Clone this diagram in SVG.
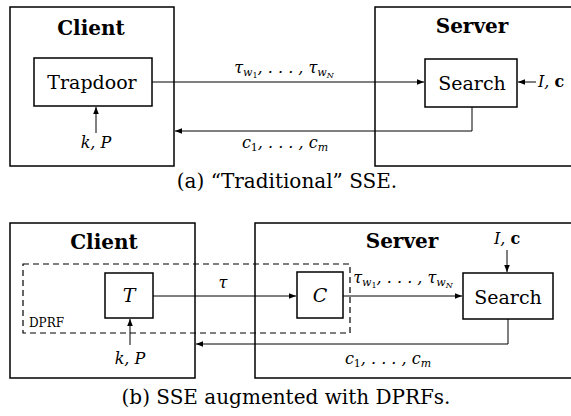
<svg xmlns="http://www.w3.org/2000/svg" width="571" height="416" viewBox="0 0 571 416">
<defs>
<marker id="ah" viewBox="0 0 10 8" refX="10" refY="4" markerWidth="7" markerHeight="5.6" markerUnits="userSpaceOnUse" orient="auto">
<path d="M0,0 L10,4 L0,8 Z" fill="#000"/>
</marker>
<style>
.box{fill:#fff;stroke:#000;stroke-width:1.5}
.dash{fill:none;stroke:#000;stroke-width:1.2;stroke-dasharray:6,4}
.ln{fill:none;stroke:#000;stroke-width:1;marker-end:url(#ah)}
text{font-family:'DejaVu Serif','Liberation Serif',serif}
.title{font-size:20px;font-weight:bold;text-anchor:middle}
.lbl{font-size:19px;text-anchor:middle}
.math{font-size:16px;font-style:italic}
.sub{font-size:11px}
.cap{font-size:20px;text-anchor:middle}
</style>
</defs>
<rect width="571" height="416" fill="#fff"/>

<!-- (a) Traditional SSE -->
<g id="a-client">
<rect class="box" x="10" y="7" width="164" height="159"/>
<text class="title" x="91" y="35">Client</text>
</g>
<g id="a-server">
<rect class="box" x="375" y="7" width="210" height="159"/>
<text class="title" x="472" y="33">Server</text>
</g>
<g id="a-trapdoor">
<rect class="box" x="34" y="58" width="118" height="48"/>
<text class="lbl" x="92" y="89">Trapdoor</text>
</g>
<g id="a-search">
<rect class="box" x="425" y="59" width="92" height="48"/>
<text class="lbl" x="472" y="90">Search</text>
</g>
<g id="a-kp">
<text class="math" x="96" y="148" text-anchor="middle">k, P</text>
</g>
<g id="a-ic">
<text class="math" x="538" y="87">I, <tspan font-style="normal" font-weight="bold">c</tspan></text>
</g>
<g id="a-connectors">
<line class="ln" x1="96" y1="133" x2="96" y2="107"/>
<line class="ln" x1="152" y1="82" x2="424" y2="82"/>
<line class="ln" x1="536" y1="82" x2="518" y2="82"/>
<polyline class="ln" points="472,107 472,131 175,131"/>
<text class="math" x="284" y="73" text-anchor="middle">τ<tspan class="sub" dy="3">w<tspan font-size="8" dy="2" font-style="normal">1</tspan></tspan><tspan dy="-5">, . . . , τ</tspan><tspan class="sub" dy="3">w<tspan font-size="8" dy="2">N</tspan></tspan></text>
<text class="math" x="285" y="148" text-anchor="middle">c<tspan class="sub" dy="3" font-style="normal">1</tspan><tspan dy="-3">, . . . , c</tspan><tspan class="sub" dy="3">m</tspan></text>
</g>
<text class="cap" x="287" y="188">(a) “Traditional” SSE.</text>

<!-- (b) SSE augmented with DPRFs -->
<g id="b-client">
<rect class="box" x="10" y="223" width="185" height="155"/>
<text class="title" x="104" y="249">Client</text>
</g>
<g id="b-server">
<rect class="box" x="255" y="223" width="330" height="155"/>
<text class="title" x="402" y="248">Server</text>
</g>
<g id="b-dprf">
<rect class="dash" x="23" y="264" width="327" height="69"/>
<text x="29" y="327" font-size="12">DPRF</text>
</g>
<g id="b-t">
<rect class="box" x="105" y="273" width="48" height="45"/>
<text class="lbl" x="129" y="302" font-style="italic" font-size="18">T</text>
</g>
<g id="b-c">
<rect class="box" x="297" y="272" width="46" height="46"/>
<text class="lbl" x="320" y="302" font-style="italic" font-size="18">C</text>
</g>
<g id="b-search">
<rect class="box" x="463" y="273" width="90" height="46"/>
<text class="lbl" x="508" y="304">Search</text>
</g>
<g id="b-kp">
<text class="math" x="130" y="364" text-anchor="middle">k, P</text>
</g>
<g id="b-ic">
<text class="math" x="507" y="244" text-anchor="middle">I, <tspan font-style="normal" font-weight="bold">c</tspan></text>
</g>
<g id="b-connectors">
<line class="ln" x1="130" y1="345" x2="130" y2="319"/>
<line class="ln" x1="153" y1="296" x2="296" y2="296"/>
<line class="ln" x1="343" y1="296" x2="462" y2="296"/>
<line class="ln" x1="507" y1="250" x2="507" y2="272"/>
<polyline class="ln" points="508,319 508,344 196,344"/>
<text class="math" x="223" y="288" text-anchor="middle">τ</text>
<text class="math" x="403" y="283" text-anchor="middle">τ<tspan class="sub" dy="3">w<tspan font-size="8" dy="2" font-style="normal">1</tspan></tspan><tspan dy="-5">, . . . , τ</tspan><tspan class="sub" dy="3">w<tspan font-size="8" dy="2">N</tspan></tspan></text>
<text class="math" x="388" y="364" text-anchor="middle">c<tspan class="sub" dy="3" font-style="normal">1</tspan><tspan dy="-3">, . . . , c</tspan><tspan class="sub" dy="3">m</tspan></text>
</g>
<text class="cap" x="286" y="404">(b) SSE augmented with DPRFs.</text>
</svg>
